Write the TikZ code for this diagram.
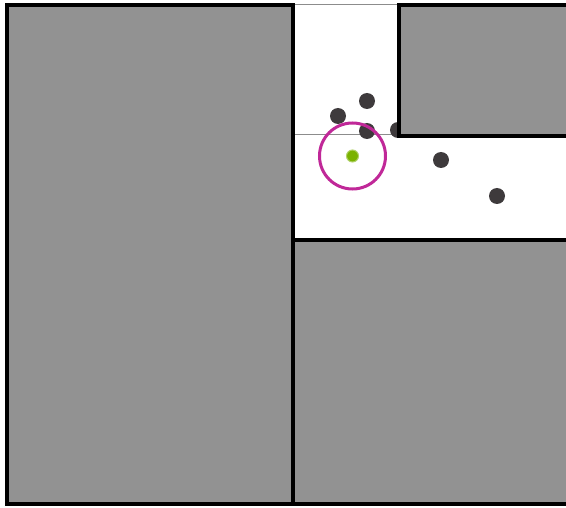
\documentclass[tikz,border=0pt]{standalone}
\usetikzlibrary{positioning}
\definecolor{blockgray}{RGB}{146,146,146}
\definecolor{sampledark}{RGB}{62,58,60}
\definecolor{querygreen}{RGB}{122,178,0}
\definecolor{ringmagenta}{RGB}{192,40,152}
\tikzset{
  blockbox/.style={fill=blockgray,draw=black,line width=3.5pt},
  cellline/.style={draw=gray!90,line width=1pt},
  sample/.style={circle,fill=sampledark,minimum size=16pt,inner sep=0pt},
  querypt/.style={circle,fill=querygreen,draw=querygreen!60!white,line width=1pt,
    minimum size=12pt,inner sep=0pt},
  searchring/.style={circle,draw=ringmagenta,line width=3pt,minimum size=66pt,inner sep=0pt},
}

\begin{document}
\begin{tikzpicture}[x=1pt,y=-1pt]
        \useasboundingbox (0,0) rectangle (566,508);
        \clip (0,0) rectangle (566,508);
        % empty cell borders
        \draw[cellline] (293,5) -- (399,5);
        \draw[cellline] (293,135) -- (399,135);
        % samples
        \node[sample] (s1) at (338,116) {};
        \node[sample] (s2) at (367,101) {};
        \node[sample] (s3) at (367,131) {};
        \node[sample] (s4) at (398,130) {};
        \node[sample] (s5) at (441,160) {};
        \node[sample] (s6) at (497,196) {};
        % occupied blocks
        \draw[blockbox] (399,5) rectangle (580,136);
        \draw[blockbox] (7,5) rectangle (293,504);
        \draw[blockbox] (293,240) rectangle (580,504);
        % query and search radius
        \node[searchring] (ring) at (352.5,156) {};
        \node[querypt] (query) at (ring.center) {};
      \end{tikzpicture}
\end{document}
